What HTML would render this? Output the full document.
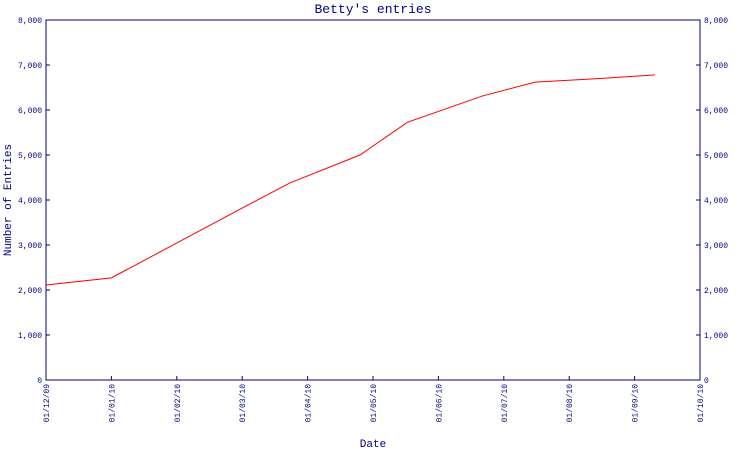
<!DOCTYPE html>
<html><head><meta charset="utf-8"><style>
body{margin:0;background:#fff}
svg{display:block;font-family:"Liberation Mono","DejaVu Sans Mono",monospace;fill:#000080}
</style></head><body>
<svg id="c" width="750" height="450">
<text x="373" y="13" text-anchor="middle" font-size="13">Betty's entries</text>
<text x="373" y="447" text-anchor="middle" font-size="11">Date</text>
<text transform="translate(11,200) rotate(-90)" text-anchor="middle" font-size="11">Number of Entries</text>
<g id="g"></g>
</svg>
<script>
const xLabels=["01/12/09","01/01/10","01/02/10","01/03/10","01/04/10","01/05/10","01/06/10","01/07/10","01/08/10","01/09/10","01/10/10"];
const yTicks=[0,1000,2000,3000,4000,5000,6000,7000,8000];
const yTickLabels=["0","1,000","2,000","3,000","4,000","5,000","6,000","7,000","8,000"];
const pointMonths=[0,1,3,3.73,4.8,5.53,6.67,7.48,8.47,9.31];
const pointValues=[2110,2270,3820,4380,5000,5730,6310,6620,6700,6780];
const L=46,R=700,T=20,B=380,YMAX=8000;
const xs=m=>L+(R-L)*m/(xLabels.length-1);
const ys=v=>B-(B-T)*v/YMAX;
const g=document.getElementById('g');
const NS="http://www.w3.org/2000/svg";
function mk(t,a){const e=document.createElementNS(NS,t);for(const k in a)e.setAttribute(k,a[k]);g.appendChild(e);return e;}
const frame=mk('rect',{x:L,y:T,width:R-L,height:B-T,fill:'none',stroke:'#000080','stroke-width':1});


yTicks.forEach((v,i)=>{
  const y=ys(v);
  const t1=mk('line',{x1:L,x2:L+4,y1:y,y2:y,stroke:'#000080'});
  
  
  const t2=mk('line',{x1:R-4,x2:R,y1:y,y2:y,stroke:'#000080'});
  
  
  const a=mk('text',{x:L-4,y:y+3,'text-anchor':'end','font-size':8});a.textContent=yTickLabels[i];
  
  
  const b=mk('text',{x:R+4,y:y+3,'font-size':8});b.textContent=yTickLabels[i];
  
  
});
xLabels.forEach((s,i)=>{
  const x=xs(i);
  const t=mk('line',{x1:x,x2:x,y1:B-4,y2:B,stroke:'#000080'});
  
  
  const tx=mk('text',{transform:`translate(${x+3},${B+4}) rotate(-90)`,'text-anchor':'end','font-size':8});tx.textContent=s;
  
  
});
const pts=pointMonths.map((m,i)=>xs(m)+','+ys(pointValues[i])).join(' ');
const line=mk('polyline',{points:pts,fill:'none',stroke:'#ff0000','stroke-width':1});


</script>
</body></html>
